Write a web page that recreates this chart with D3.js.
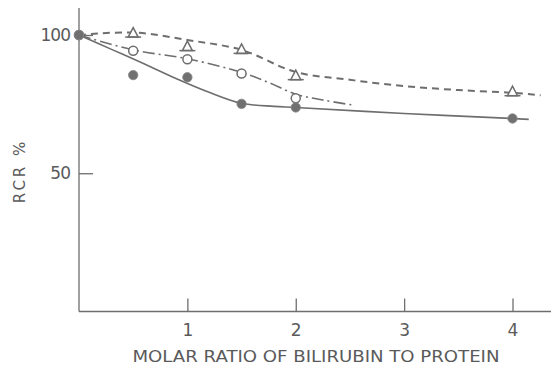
<!DOCTYPE html>
<html><head><meta charset="utf-8">
<script src="https://cdn.jsdelivr.net/npm/d3@7"></script>
<style>
html,body{margin:0;padding:0;background:#fff;}
svg{display:block;}
text{font-family:"DejaVu Sans","Liberation Sans",sans-serif;fill:#5a5a5a;}
</style></head>
<body><svg id="c" width="553" height="367"></svg>
<script>
// tick labels
const xTicks = [1, 2, 3, 4];
const yTicks = [50, 100];
// measured points
const filledX = [0, 0.5, 1, 1.5, 2, 4];
const filledY = [100, 85.5, 84.7, 75.1, 73.8, 69.8];
const openX = [0, 0.5, 1, 1.5, 2];
const openY = [100, 94.3, 91.2, 86.1, 77.1];
const triX = [0.5, 1, 1.5, 2, 4];
const triY = [100.7, 95.8, 94.8, 85.3, 79.5];
// fitted curves
const solidX = [0, 0.3, 0.6, 0.9, 1.2, 1.5, 1.8, 2, 3, 4, 4.15];
const solidY = [100, 94.8, 89.6, 84.2, 79.3, 75.3, 74.2, 73.8, 71.6, 69.8, 69.5];
const dashX = [0, 0.5, 1, 1.5, 2, 2.5, 3, 3.5, 4, 4.26];
const dashY = [100, 100.9, 98.2, 94.6, 86.6, 83.8, 81.5, 80.1, 79.1, 78.2];
const dotDashX = [0, 0.5, 1, 1.5, 1.75, 2, 2.25, 2.52];
const dotDashY = [100, 94.6, 91.4, 86.5, 82.8, 78.6, 76.5, 74.7];

const svg = d3.select("#c");
const x = d3.scaleLinear().domain([0, 4]).range([79, 512.5]);
const y = d3.scaleLinear().domain([0, 100]).range([311.5, 35]);
const col = "#6e6e6e";

// axes
svg.append("line").attr("x1", x(0)).attr("x2", x(0)).attr("y1", 8).attr("y2", y(0))
  .attr("stroke", col).attr("stroke-width", 1.3);
svg.append("line").attr("x1", x(0)).attr("x2", 551).attr("y1", y(0)).attr("y2", y(0))
  .attr("stroke", col).attr("stroke-width", 1.3);

const xa = svg.append("g").attr("transform", `translate(0,${y(0)})`)
  .call(d3.axisBottom(x).tickValues(xTicks).tickSizeInner(-13).tickSizeOuter(0).tickPadding(12).tickFormat(d3.format("d")));
xa.select(".domain").remove();
xa.selectAll("line").attr("stroke", col).attr("stroke-width", 1.3);
xa.selectAll("text").attr("font-size", 17).attr("fill", "#5a5a5a").style("font-family", "DejaVu Sans, sans-serif");

const ya = svg.append("g").attr("transform", `translate(${x(0)},0)`)
  .call(d3.axisLeft(y).tickValues(yTicks).tickSizeInner(-14).tickSizeOuter(0).tickPadding(9).tickFormat(d3.format("d")));
ya.select(".domain").remove();
ya.selectAll("line").attr("stroke", col).attr("stroke-width", 1.3);
ya.selectAll("text").attr("font-size", 17).attr("fill", "#5a5a5a").style("font-family", "DejaVu Sans, sans-serif").attr("letter-spacing", -1);

// labels
svg.append("text").attr("x", 316).attr("y", 362).attr("text-anchor", "middle")
  .attr("font-size", 16).attr("textLength", 367).attr("lengthAdjust", "spacingAndGlyphs")
  .text("MOLAR RATIO OF BILIRUBIN TO PROTEIN");
svg.append("text").attr("transform", "translate(25,171) rotate(-90)").attr("text-anchor", "middle")
  .attr("font-size", 15).attr("letter-spacing", 3).text("RCR %");

// curves
const line = d3.line().x(d => x(d[0])).y(d => y(d[1])).curve(d3.curveCatmullRom.alpha(0.5));
const zip = (a, b) => a.map((v, i) => [v, b[i]]);
svg.append("path").attr("d", line(zip(solidX, solidY))).attr("fill", "none")
  .attr("stroke", col).attr("stroke-width", 1.6);
svg.append("path").attr("d", line(zip(dashX, dashY))).attr("fill", "none")
  .attr("stroke", col).attr("stroke-width", 2).attr("stroke-dasharray", "7,5");
svg.append("path").attr("d", line(zip(dotDashX, dotDashY))).attr("fill", "none")
  .attr("stroke", col).attr("stroke-width", 1.6).attr("stroke-dasharray", "12,4,2,4");

// markers
svg.selectAll(".tri").data(zip(triX, triY)).enter().append("path")
  .attr("transform", d => `translate(${x(d[0])},${y(d[1])})`)
  .attr("d", "M0,-5.5L5,4L-5,4Z").attr("fill", "#fff").attr("stroke", col).attr("stroke-width", 1.5);
svg.selectAll(".tri2").data(zip(triX, triY)).enter().append("line")
  .attr("x1", d => x(d[0]) - 8).attr("x2", d => x(d[0]) + 8)
  .attr("y1", d => y(d[1]) + 4).attr("y2", d => y(d[1]) + 4)
  .attr("stroke", col).attr("stroke-width", 1.5);
svg.selectAll(".open").data(zip(openX, openY)).enter().append("circle")
  .attr("cx", d => x(d[0])).attr("cy", d => y(d[1])).attr("r", 4.5)
  .attr("fill", "#fff").attr("stroke", col).attr("stroke-width", 1.5);
svg.selectAll(".filled").data(zip(filledX, filledY)).enter().append("circle")
  .attr("cx", d => x(d[0])).attr("cy", d => y(d[1])).attr("r", 4.7)
  .attr("fill", "#707070").attr("stroke", "#888").attr("stroke-width", 0.8);
</script></body></html>
